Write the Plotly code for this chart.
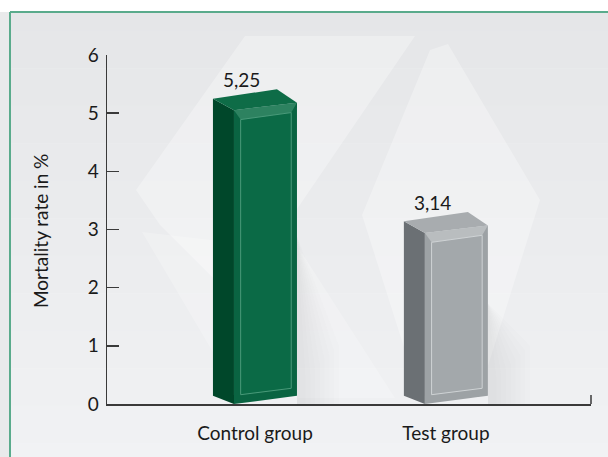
import plotly.graph_objects as go

# ---- data ----
categories = ["Control group", "Test group"]
values = [5.25, 3.14]
y_ticks = [0, 1, 2, 3, 4, 5, 6]
y_title = "Mortality rate in %"

# ---- style ----
W, H = 608, 457
L, R, T, B = 107, 591, 55, 404  # plot area in pixels
FONT = "Lato"
TXT = "#1a1a1a"
FS = 19
face_colors = [
    dict(side="#00472a", front="#0a6442", inner="#0b6a46", top="#0e6c47", rim="#4a9a7a"),
    dict(side="#6b7074", front="#9da2a5", inner="#a3a8ab", top="#a8acaf", rim="#cfd3d5"),
]

def px(x):
    return (x - L) / (R - L)

def py(y):
    return (B - y) / (B - T)

fig = go.Figure()

x_range = [-0.775, 1.76]
xs = list(range(len(categories)))

# bar geometry offsets (in axis units) for the pseudo-3D look
SL, FL, FR, BR = -0.22, -0.11, 0.22, 0.115
for i, (c, v) in enumerate(zip(xs, values)):
    col = face_colors[i]
    # soft shadow to the lower right
    nsh = 8
    for k in range(nsh):
        d = 0.025 * (nsh - k)
        fig.add_trace(go.Scatter(
            x=[c + FR, c + FR + d + 0.02, c + FR + d + 0.02, c + FR],
            y=[0.0, 0.0, 1.0 - 0.08 * k, v * 0.55],
            fill="toself", fillcolor="rgba(90,90,90,0.013)", line=dict(width=0),
            mode="lines", hoverinfo="skip", showlegend=False))
    # side face
    fig.add_trace(go.Scatter(
        x=[c + SL, c + FL, c + FL, c + SL],
        y=[0.14, 0.0, v - 0.2, v],
        fill="toself", fillcolor=col["side"], line=dict(width=0),
        mode="lines", hoverinfo="skip", showlegend=False))
    # front face
    fig.add_trace(go.Scatter(
        x=[c + FL, c + FR, c + FR, c + FL],
        y=[0.0, 0.14, v - 0.07, v - 0.2],
        fill="toself", fillcolor=col["front"], line=dict(width=0),
        mode="lines", hoverinfo="skip", showlegend=False))
    # front bevel inner panel
    fig.add_trace(go.Scatter(
        x=[c + FL + 0.035, c + FR - 0.03, c + FR - 0.03, c + FL + 0.035, c + FL + 0.035],
        y=[0.16, 0.27, v - 0.24, v - 0.36, 0.16],
        fill="toself", fillcolor=col["inner"], line=dict(width=1, color=col["rim"]),
        mode="lines", hoverinfo="skip", showlegend=False))
    # top face
    fig.add_trace(go.Scatter(
        x=[c + SL, c + BR, c + FR, c + FL],
        y=[v, v + 0.16, v - 0.07, v - 0.2],
        fill="toself", fillcolor=col["top"], line=dict(width=0),
        mode="lines", hoverinfo="skip", showlegend=False))
    # chamfer highlight at the top of the front face
    fig.add_trace(go.Scatter(
        x=[c + FL, c + FR, c + FR - 0.03, c + FL + 0.035],
        y=[v - 0.2, v - 0.07, v - 0.24, v - 0.36],
        fill="toself", fillcolor=col["rim"], opacity=0.55, line=dict(width=0),
        mode="lines", hoverinfo="skip", showlegend=False))

# value labels
annotations = []
for c, v in zip(xs, values):
    annotations.append(dict(x=c - 0.07, y=v, xref="x", yref="y",
                            text=f"{v:.2f}".replace(".", ","), showarrow=False,
                            yanchor="middle", xanchor="center", yshift=19,
                            font=dict(family=FONT, size=FS, color=TXT)))
annotations.append(dict(text=y_title, xref="paper", yref="paper",
                        x=px(40), y=py(231), textangle=-90, showarrow=False,
                        font=dict(family=FONT, size=FS, color=TXT),
                        xanchor="center", yanchor="middle"))

shapes = []
# page background and gradient strip at left
shapes.append(dict(type="rect", xref="paper", yref="paper", layer="below",
                   x0=px(-5), x1=px(W + 5), y0=py(H + 5), y1=py(-5),
                   fillcolor="#ffffff", line=dict(width=0)))
shapes.append(dict(type="rect", xref="paper", yref="paper", layer="below",
                   x0=px(-5), x1=px(10), y0=py(H + 5), y1=py(12),
                   fillcolor="#e9eaeb", line=dict(width=0)))
# inner panel background as vertical gradient bands
top_c = (0xe5, 0xe6, 0xe8)
bot_c = (0xf1, 0xf2, 0xf4)
n = 24
y_start, y_end = 12, H + 5
for k in range(n):
    t = k / (n - 1)
    cc = tuple(int(round(a + (b - a) * t)) for a, b in zip(top_c, bot_c))
    y0 = y_start + (y_end - y_start) * k / n
    y1 = y_start + (y_end - y_start) * (k + 1) / n
    shapes.append(dict(type="rect", xref="paper", yref="paper", layer="below",
                       x0=px(10), x1=px(W + 5), y0=py(y1 + 0.5), y1=py(y0),
                       fillcolor="rgb(%d,%d,%d)" % cc, line=dict(width=0)))

# faint watermark logo shapes
def poly(points):
    return "M " + " L ".join(f"{px(a):.4f},{py(b):.4f}" for a, b in points) + " Z"

wm = "rgba(255,255,255,0.30)"
shapes.append(dict(type="path", xref="paper", yref="paper", layer="below",
                   path=poly([(136, 190), (245, 36), (415, 36), (235, 300), (160, 225)]),
                   fillcolor=wm, line=dict(width=0)))
shapes.append(dict(type="path", xref="paper", yref="paper", layer="below",
                   path=poly([(430, 50), (448, 44), (540, 200), (478, 398), (420, 398), (362, 215)]),
                   fillcolor=wm, line=dict(width=0)))
shapes.append(dict(type="path", xref="paper", yref="paper", layer="below",
                   path=poly([(142, 232), (300, 250), (395, 398), (240, 398)]),
                   fillcolor="rgba(255,255,255,0.22)", line=dict(width=0)))
# green border (left and top)
shapes.append(dict(type="line", xref="paper", yref="paper",
                   x0=px(10), x1=px(10), y0=py(H + 5), y1=py(12),
                   line=dict(color="#5aab8c", width=2)))
shapes.append(dict(type="line", xref="paper", yref="paper",
                   x0=px(10), x1=px(W + 5), y0=py(12), y1=py(12),
                   line=dict(color="#5aab8c", width=2)))
# tick at the right end of the x axis
shapes.append(dict(type="line", xref="paper", yref="paper",
                   x0=1, x1=1, y0=0, y1=py(B - 9),
                   line=dict(color="#3a3a3a", width=1.5)))

fig.update_layout(
    width=W, height=H,
    margin=dict(l=L, r=W - R, t=T, b=H - B),
    paper_bgcolor="#ffffff", plot_bgcolor="rgba(0,0,0,0)",
    shapes=shapes, annotations=annotations,
    showlegend=False, hovermode=False,
    font=dict(family=FONT, size=FS, color=TXT),
    xaxis=dict(range=x_range, tickvals=xs, ticktext=categories,
               showgrid=False, zeroline=False, showline=True,
               linecolor="#3a3a3a", linewidth=1.5, ticks="",
               ticklabelstandoff=12, tickfont=dict(size=FS, color=TXT)),
    yaxis=dict(range=[0, 6], tickvals=y_ticks, showgrid=False, zeroline=False,
               showline=True, linecolor="#3a3a3a", linewidth=1.5,
               ticks="inside", ticklen=12, tickwidth=1.5, tickcolor="#3a3a3a",
               ticklabelstandoff=3, tickfont=dict(size=FS, color=TXT)),
)

fig.write_html("out.html", config={"displayModeBar": False, "staticPlot": True},
               post_script="document.body.style.margin='0';document.body.style.overflow='hidden';")
